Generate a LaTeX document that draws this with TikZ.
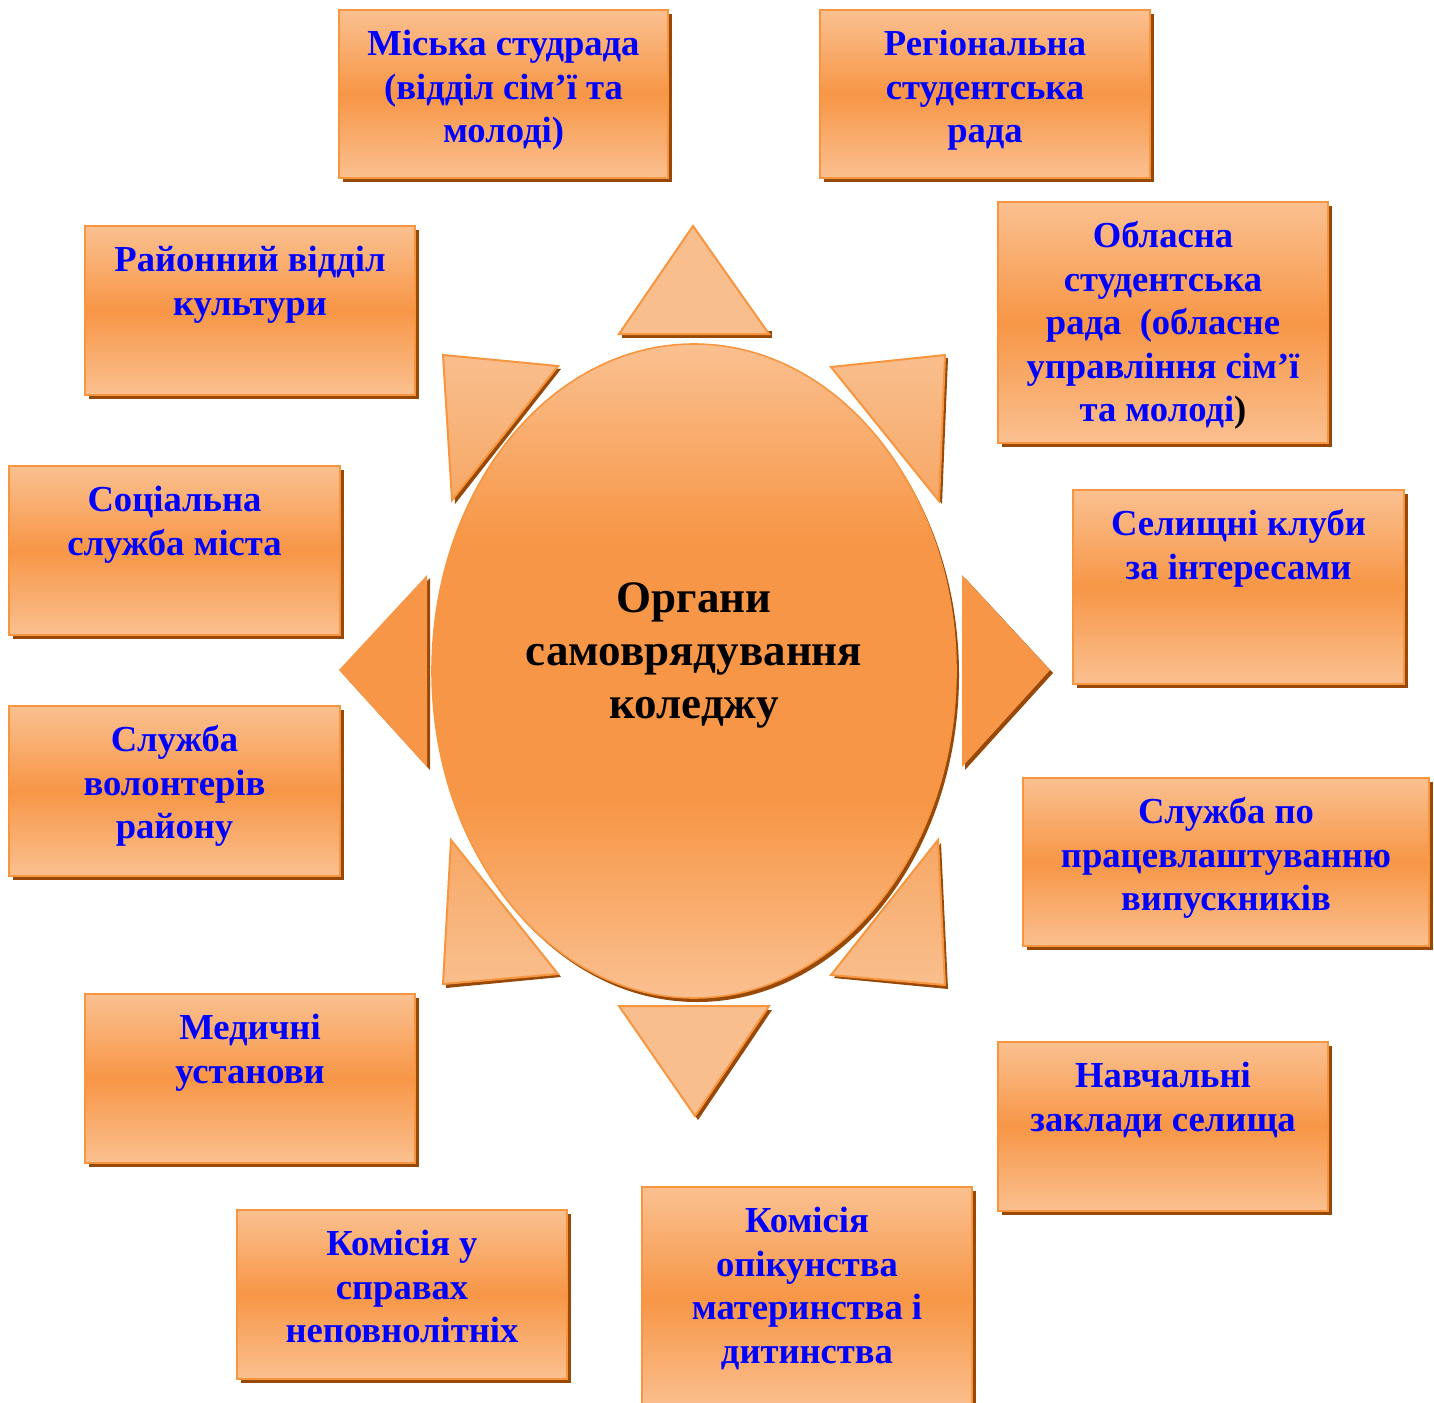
\documentclass[tikz,border=0pt]{standalone}
\usepackage{fontspec}
\setmainfont{Liberation Serif}
\definecolor{olight}{HTML}{FAC090}
\definecolor{odark}{HTML}{F79646}
\definecolor{oshadow}{HTML}{984807}
\definecolor{oedge}{HTML}{F7963F}
\definecolor{tlight}{HTML}{F9BE8D}
\definecolor{tmid}{HTML}{F6A866}
\pgfdeclareverticalshading{ellshade}{100bp}{color(0bp)=(olight); color(25bp)=(olight); color(40bp)=(odark); color(60bp)=(odark); color(75bp)=(olight); color(100bp)=(olight)}
\tikzset{
  boxline/.style={draw=oedge, line width=1.1pt},
  boxtext/.style={anchor=north, align=center, inner sep=0pt, text=blue,
    font=\bfseries\fontsize{18.3}{21.8}\selectfont},
  centertext/.style={anchor=north, align=center, inner sep=0pt, text=black,
    font=\bfseries\fontsize{22.5}{26.5}\selectfont},
  trishadow/.style={fill=oshadow},
  trilight/.style={fill=tlight, draw=oedge, line width=1pt, line join=miter},
}
\newcommand\orgbox[6]{%
  \fill[oshadow] ({#1+4},{#2+4}) rectangle ({#3+4},{#4+4});
  \shade[top color=olight, bottom color=olight, middle color=odark] (#1,#2) rectangle (#3,#4);
  \draw[boxline] (#1,#2) rectangle (#3,#4);
  \node[boxtext] (#5) at ({(#1+#3)/2},{#2+14.5}) {\strut #6};
}
\begin{document}
\begin{tikzpicture}[x=0.5pt, y=-0.5pt]
\useasboundingbox (0,0) rectangle (1434,1402);
\clip (0,0) rectangle (1434,1402);

% ---- boxes
\orgbox{339}{10}{668}{178}{miska}{Міська студрада\\(відділ сім’ї та\\молоді)}
\orgbox{820}{10}{1150}{178}{regional}{Регіональна\\студентська\\рада}
\orgbox{85}{226}{415}{395}{rayon}{Районний відділ\\культури}
\orgbox{998}{202}{1328}{443}{oblast}{Обласна\\студентська\\рада \ (обласне\\управління сім’ї\\та молоді{\color{black})}}
\orgbox{9}{466}{340}{635}{social}{Соціальна\\служба міста}
\orgbox{1073}{490}{1404}{684}{kluby}{Селищні клуби\\за інтересами}
\orgbox{9}{706}{340}{876}{volont}{Служба\\волонтерів\\району}
\orgbox{1023}{778}{1429}{946}{pratsev}{Служба по\\працевлаштуванню\\випускників}
\orgbox{85}{994}{415}{1163}{medic}{Медичні\\установи}
\orgbox{998}{1042}{1328}{1211}{navch}{Навчальні\\заклади селища}
\orgbox{237}{1210}{567}{1379}{nepovn}{Комісія у\\справах\\неповнолітніх}
\orgbox{642}{1187}{972}{1410}{opik}{Комісія\\опікунства\\материнства і\\дитинства}

% ---- triangles (rays)
% top
\fill[trishadow] (622,331) -- (772,331) -- (772,338) -- (622,338) -- cycle;
\path[trilight] (693,226) -- (769,334) -- (619,334) -- cycle;
% bottom
\fill[trishadow] (622,1010) -- (772,1010) -- (698,1120) -- cycle;
\path[trilight] (619,1006) -- (769,1006) -- (695,1116) -- cycle;
% left
\fill[trishadow] (342,673) -- (430,578) -- (430,770) -- cycle;
\fill[odark] (339,670) -- (427,575) -- (427,767) -- cycle;
% right
\fill[trishadow] (965,578) -- (1053,673) -- (965,770) -- cycle;
\fill[odark] (962,575) -- (1050,670) -- (962,767) -- cycle;
% top-left
\fill[trishadow] (446,358) -- (561,369) -- (455,504) -- cycle;
\shade[top color=tlight, bottom color=tmid] (443,355) -- (558,366) -- (452,500) -- cycle;
\draw[boxline, line width=1pt] (443,355) -- (558,366) -- (452,500) -- cycle;
% top-right
\fill[trishadow] (834,370) -- (948,358) -- (942,504) -- cycle;
\shade[top color=tlight, bottom color=tmid] (831,367) -- (945,355) -- (939,501) -- cycle;
\draw[boxline, line width=1pt] (831,367) -- (945,355) -- (939,501) -- cycle;
% bottom-left
\fill[trishadow] (454,843) -- (561,977) -- (446,988) -- cycle;
\shade[top color=tmid, bottom color=tlight] (451,840) -- (558,974) -- (443,984) -- cycle;
\draw[boxline, line width=1pt] (451,840) -- (558,974) -- (443,984) -- cycle;
% bottom-right
\fill[trishadow] (941,843) -- (948,989) -- (834,978) -- cycle;
\shade[top color=tmid, bottom color=tlight] (938,840) -- (945,985) -- (831,975) -- cycle;
\draw[boxline, line width=1pt] (938,840) -- (945,985) -- (831,975) -- cycle;

% ---- centre ellipse
\fill[oshadow] (697,675) ellipse [x radius=131pt, y radius=163.5pt];
\shade[shading=ellshade] (694,671) ellipse [x radius=131pt, y radius=163.5pt];
\draw[draw=oedge, line width=0.8pt] (694,671) ellipse [x radius=131pt, y radius=163.5pt];
\node[centertext] (centre) at (694,575) {\strut Органи\\самоврядування\\коледжу};
\end{tikzpicture}
\end{document}
